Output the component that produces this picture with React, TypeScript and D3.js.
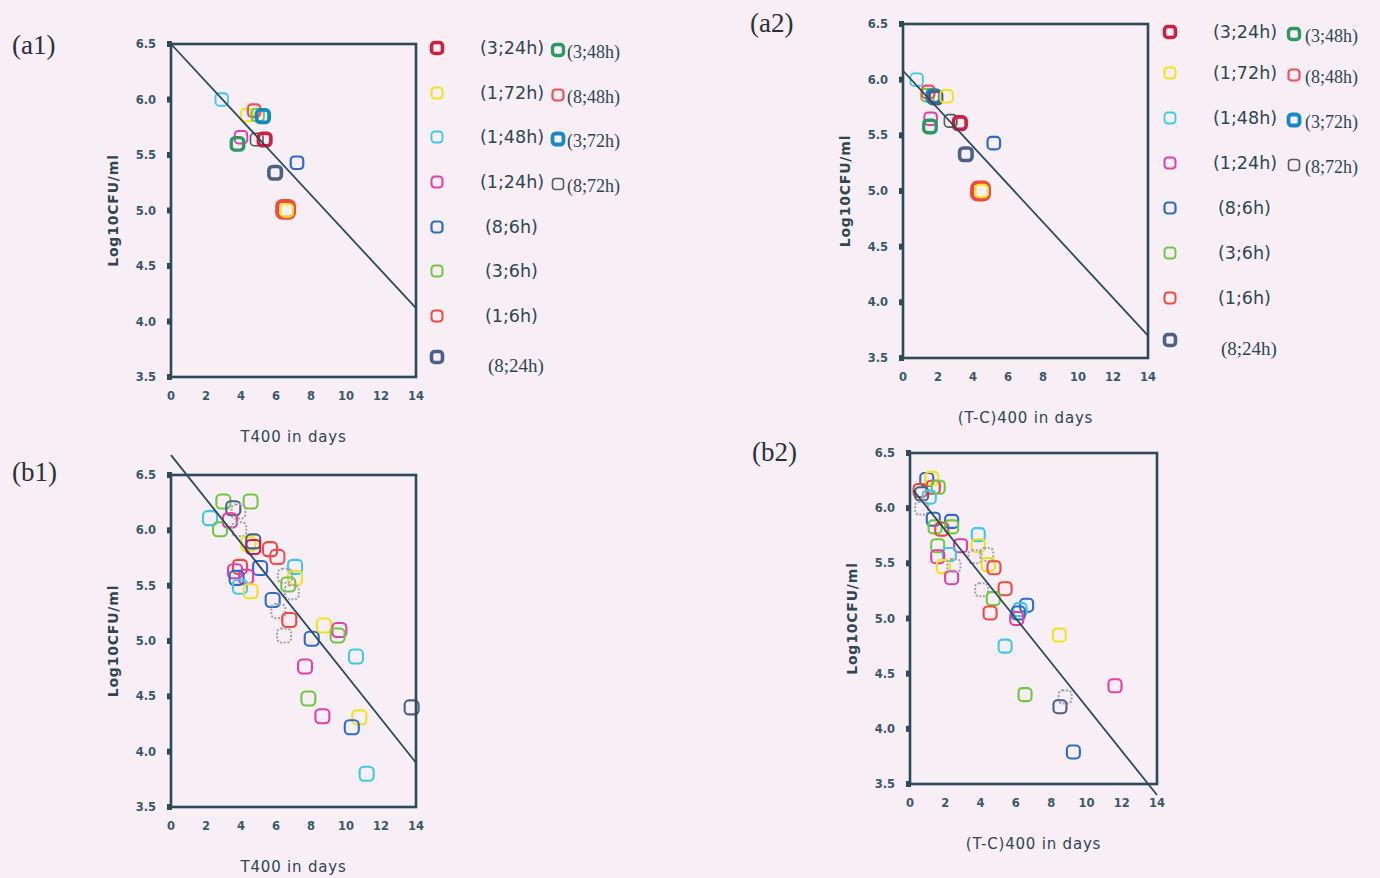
import React from "react";
import * as d3 from "d3";

// Strain / incubation combinations shown in the legend
const SERIES = [
  "3;24h", "1;72h", "1;48h", "1;24h", "8;6h", "3;6h", "1;6h", "8;24h",
  "3;48h", "8;48h", "3;72h", "8;72h",
];
const SERIES_COLORS: Record<string, string> = {
  "3;24h": "#cc2040",
  "1;72h": "#f2e21c",
  "1;48h": "#40c8ea",
  "1;24h": "#e040a8",
  "8;6h": "#2f6cc8",
  "3;6h": "#70c840",
  "1;6h": "#f04a3c",
  "8;24h": "#4c6284",
  "3;48h": "#2a9a62",
  "8;48h": "#f25058",
  "3;72h": "#1888c2",
  "8;72h": "#555a5a",
};
const SERIES_WEIGHT: Record<string, number> = {
  "3;24h": 3.6, "1;72h": 2, "1;48h": 1.8, "1;24h": 2, "8;6h": 2.2, "3;6h": 2,
  "1;6h": 2, "8;24h": 3.6, "3;48h": 3.4, "8;48h": 2.2, "3;72h": 3.8, "8;72h": 1.6,
};

const X_TICKS = [0, 2, 4, 6, 8, 10, 12, 14];
const Y_TICKS = [3.5, 4.0, 4.5, 5.0, 5.5, 6.0, 6.5];

type Pt = [string, number, number];

// (a1) log count vs T400
const A1_POINTS: Pt[] = [
  ["1;48h", 2.9, 6.0],
  ["1;72h", 4.35, 5.86],
  ["8;48h", 4.75, 5.9],
  ["3;6h", 4.95, 5.86],
  ["3;72h", 5.25, 5.85],
  ["1;24h", 4.0, 5.66],
  ["3;48h", 3.8, 5.6],
  ["8;72h", 4.9, 5.64],
  ["3;24h", 5.35, 5.64],
  ["8;6h", 7.2, 5.43],
  ["8;24h", 5.95, 5.34],
  ["1;6h", 6.55, 5.01],
  ["1;72h", 6.62, 5.0],
];
const A1_FIT: [number, number][] = [[0, 6.5], [14, 4.12]];

// (a2) log count vs (T-C)400
const A2_POINTS: Pt[] = [
  ["1;48h", 0.78, 6.0],
  ["3;6h", 1.4, 5.86],
  ["8;48h", 1.44, 5.89],
  ["3;72h", 1.75, 5.85],
  ["8;24h", 1.85, 5.84],
  ["1;72h", 2.49, 5.85],
  ["1;24h", 1.58, 5.65],
  ["3;48h", 1.54, 5.58],
  ["8;72h", 2.72, 5.63],
  ["3;24h", 3.25, 5.61],
  ["8;6h", 5.19, 5.43],
  ["8;24h", 3.59, 5.33],
  ["1;6h", 4.43, 5.0],
  ["1;72h", 4.5, 5.0],
];
const A2_FIT: [number, number][] = [[0, 6.08], [14, 3.7]];

// (b1) all replicates vs T400
const B1_POINTS: Pt[] = [
  ["3;6h", 2.99, 6.26],
  ["3;6h", 4.55, 6.26],
  ["8;24h", 3.56, 6.2],
  ["8;72h", 3.85, 6.17],
  ["1;48h", 2.23, 6.11],
  ["1;24h", 3.37, 6.09],
  ["3;6h", 2.8, 6.01],
  ["8;72h", 3.9, 6.01],
  ["1;72h", 4.42, 5.88],
  ["8;24h", 4.7, 5.9],
  ["3;24h", 4.7, 5.85],
  ["1;6h", 5.66, 5.83],
  ["8;48h", 6.08, 5.76],
  ["8;6h", 5.09, 5.66],
  ["1;6h", 3.94, 5.67],
  ["1;24h", 3.66, 5.63],
  ["1;24h", 4.29, 5.58],
  ["8;6h", 3.75, 5.57],
  ["1;48h", 3.94, 5.49],
  ["1;72h", 4.55, 5.45],
  ["1;48h", 7.09, 5.67],
  ["1;72h", 7.09, 5.57],
  ["8;72h", 6.51, 5.59],
  ["3;6h", 6.7, 5.51],
  ["8;72h", 6.9, 5.44],
  ["8;6h", 5.81, 5.37],
  ["8;72h", 6.13, 5.27],
  ["1;6h", 6.76, 5.19],
  ["8;72h", 6.46, 5.05],
  ["8;6h", 8.04, 5.02],
  ["1;72h", 8.74, 5.14],
  ["1;24h", 9.62, 5.1],
  ["3;6h", 9.52, 5.05],
  ["1;48h", 10.57, 4.86],
  ["1;24h", 7.66, 4.77],
  ["3;6h", 7.85, 4.48],
  ["1;24h", 8.65, 4.32],
  ["1;72h", 10.76, 4.31],
  ["8;6h", 10.33, 4.22],
  ["8;24h", 13.75, 4.4],
  ["1;48h", 11.18, 3.8],
];
const B1_FIT: [number, number][] = [[0, 6.68], [14, 3.9]];

// (b2) all replicates vs (T-C)400
const B2_POINTS: Pt[] = [
  ["8;6h", 0.95, 6.26],
  ["1;72h", 1.23, 6.27],
  ["1;6h", 1.32, 6.19],
  ["3;6h", 1.6, 6.19],
  ["1;6h", 0.57, 6.16],
  ["8;24h", 0.66, 6.13],
  ["1;48h", 1.09, 6.1],
  ["8;72h", 0.66, 6.0],
  ["8;6h", 1.32, 5.9],
  ["3;6h", 1.42, 5.83],
  ["1;6h", 1.8, 5.81],
  ["8;6h", 2.36, 5.88],
  ["3;6h", 2.36, 5.83],
  ["1;24h", 2.87, 5.66],
  ["3;6h", 1.57, 5.66],
  ["1;48h", 2.23, 5.58],
  ["1;24h", 1.57, 5.56],
  ["1;72h", 1.89, 5.47],
  ["1;24h", 2.36, 5.37],
  ["8;72h", 2.49, 5.48],
  ["1;48h", 3.87, 5.76],
  ["1;72h", 3.87, 5.66],
  ["8;72h", 4.35, 5.58],
  ["8;72h", 3.68, 5.56],
  ["1;72h", 4.44, 5.49],
  ["1;6h", 4.76, 5.46],
  ["1;6h", 5.39, 5.27],
  ["8;72h", 4.06, 5.26],
  ["3;6h", 4.72, 5.18],
  ["1;6h", 4.54, 5.05],
  ["8;6h", 6.61, 5.12],
  ["1;48h", 6.24, 5.08],
  ["8;6h", 6.14, 5.05],
  ["1;24h", 6.05, 5.0],
  ["1;72h", 8.46, 4.85],
  ["1;48h", 5.39, 4.75],
  ["3;6h", 6.52, 4.31],
  ["1;24h", 11.62, 4.39],
  ["8;72h", 8.79, 4.29],
  ["8;24h", 8.5, 4.2],
  ["8;6h", 9.26, 3.79],
];
const B2_FIT: [number, number][] = [[0.2, 6.16], [14, 3.4]];

// Legend layout: first column, then the four extra entries at the right of the first rows
const LEGEND_LEFT = ["3;24h", "1;72h", "1;48h", "1;24h", "8;6h", "3;6h", "1;6h", "8;24h"];
const LEGEND_RIGHT = ["3;48h", "8;48h", "3;72h", "8;72h"];

const BG = "#f7eef6";
const INK = "#2c4a58";
const TEXT = "#30464f";
const SANS = "'DejaVu Sans', Verdana, sans-serif";
const SERIF = "'Liberation Serif', 'Times New Roman', serif";

type Box = { l: number; r: number; t: number; b: number };

function Marker({
  x, y, size, series, thin, emph = false,
}: { x: number; y: number; size: number; series: string; thin: boolean; emph?: boolean }) {
  const dotted = thin && series === "8;72h";
  const color = dotted ? "#a4a4a8" : SERIES_COLORS[series];
  const w = thin ? 2.1 : emph ? 4 : SERIES_WEIGHT[series];
  const s = emph ? size * 1.35 : size;
  return (
    <rect
      x={x - s / 2}
      y={y - s / 2}
      width={s}
      height={s}
      rx={s * 0.3}
      fill="none"
      stroke={color}
      strokeWidth={w}
      strokeDasharray={dotted ? "2 1.6" : undefined}
    />
  );
}

function Panel({
  box, points, fit, xTitle, markerSize, thin,
}: {
  box: Box; points: Pt[]; fit: [number, number][]; xTitle: string; markerSize: number; thin: boolean;
}) {
  const x = d3.scaleLinear().domain([0, 14]).range([box.l, box.r]);
  const y = d3.scaleLinear().domain([3.5, 6.5]).range([box.b, box.t]);
  const line = d3.line<[number, number]>().x((d) => x(d[0])).y((d) => y(d[1]));
  const fmt = d3.format(".1f");
  return (
    <g>
      {points.map((p, i) => (
        <Marker
          key={i}
          x={x(p[1])}
          y={y(p[2])}
          size={markerSize}
          series={p[0]}
          thin={thin}
          emph={!thin && p[0] === "1;6h"}
        />
      ))}
      <rect x={box.l} y={box.t} width={box.r - box.l} height={box.b - box.t} fill="none" stroke={INK} strokeWidth={2.6} />
      <path d={line(fit) || ""} fill="none" stroke={INK} strokeWidth={1.8} />
      {Y_TICKS.map((v) => (
        <g key={v}>
          <rect x={box.l - 4} y={y(v) - 3} width={5} height={6} fill={INK} />
          <text
            x={box.l - 15}
            y={y(v)}
            dy="0.36em"
            textAnchor="end"
            fontFamily={SANS}
            fontWeight="bold"
            fontSize={11.5}
            fill="#3a5866"
          >
            {fmt(v)}
          </text>
        </g>
      ))}
      {X_TICKS.map((v) => (
        <text
          key={v}
          x={x(v)}
          y={box.b + 19}
          dy="0.36em"
          textAnchor="middle"
          fontFamily={SANS}
          fontWeight="bold"
          fontSize={11.5}
          fill="#3a5866"
        >
          {v}
        </text>
      ))}
      <text
        x={(box.l + box.r) / 2}
        y={box.b + 60}
        dy="0.36em"
        textAnchor="middle"
        fontFamily={SANS}
        fontSize={15}
        letterSpacing={0.8}
        fill={TEXT}
      >
        {xTitle}
      </text>
      <text
        transform={`translate(${box.l - 58},${(box.t + box.b) / 2}) rotate(-90)`}
        dy="0.36em"
        textAnchor="middle"
        fontFamily={SANS}
        fontWeight="bold"
        fontSize={14}
        letterSpacing={0.8}
        fill={TEXT}
      >
        Log10CFU/ml
      </text>
    </g>
  );
}

function Legend({ mx, tx, rows, mx2, tx2 }: { mx: number; tx: number; rows: number[]; mx2: number; tx2: number }) {
  const size = 11;
  return (
    <g>
      {LEGEND_LEFT.map((s, i) => {
        const serif = s === "8;24h";
        const shift = i >= 4 && !serif ? 5 : serif ? 8 : 0;
        return (
          <g key={s}>
            <Marker x={mx} y={rows[i]} size={size} series={s} thin={false} />
            <text
              x={tx + shift}
              y={rows[i] + (serif ? 8 : 0)}
              dy="0.36em"
              fontFamily={serif ? SERIF : SANS}
              fontSize={serif ? 19 : 17.5}
              fill={TEXT}
            >
              {`(${s})`}
            </text>
          </g>
        );
      })}
      {LEGEND_RIGHT.map((s, i) => (
        <g key={s}>
          <Marker x={mx2} y={rows[i] + 2} size={size} series={s} thin={false} />
          <text x={tx2} y={rows[i] + 4} dy="0.36em" fontFamily={SERIF} fontSize={18} fill={TEXT}>
            {`(${s})`}
          </text>
        </g>
      ))}
    </g>
  );
}

function PanelLabel({ x, y, text }: { x: number; y: number; text: string }) {
  return (
    <text x={x} y={y} fontFamily={SERIF} fontSize={27} fill="#2a3038">
      {text}
    </text>
  );
}

export default function App() {
  return (
    <svg
      width={1380}
      height={878}
      style={{ position: "absolute", left: 0, top: 0, background: BG }}
    >
      <rect x={0} y={0} width={1380} height={878} fill={BG} />
      <PanelLabel x={12} y={54} text="(a1)" />
      <PanelLabel x={750} y={32} text="(a2)" />
      <PanelLabel x={12} y={481} text="(b1)" />
      <PanelLabel x={752} y={461} text="(b2)" />

      <Panel box={{ l: 171, r: 416, t: 44, b: 377 }} points={A1_POINTS} fit={A1_FIT} xTitle="T400 in days" markerSize={12.5} thin={false} />
      <Panel box={{ l: 903, r: 1148, t: 24, b: 358 }} points={A2_POINTS} fit={A2_FIT} xTitle="(T-C)400 in days" markerSize={12.5} thin={false} />
      <Panel box={{ l: 171, r: 416, t: 475, b: 807 }} points={B1_POINTS} fit={B1_FIT} xTitle="T400 in days" markerSize={14} thin={true} />
      <Panel box={{ l: 910, r: 1157, t: 453, b: 784 }} points={B2_POINTS} fit={B2_FIT} xTitle="(T-C)400 in days" markerSize={13} thin={true} />

      <Legend mx={437} tx={480} rows={[48, 93, 137, 182, 227, 271, 316, 357]} mx2={558} tx2={567} />
      <Legend mx={1170} tx={1213} rows={[32, 73, 118, 163, 208, 253, 298, 340]} mx2={1294} tx2={1305} />
    </svg>
  );
}
